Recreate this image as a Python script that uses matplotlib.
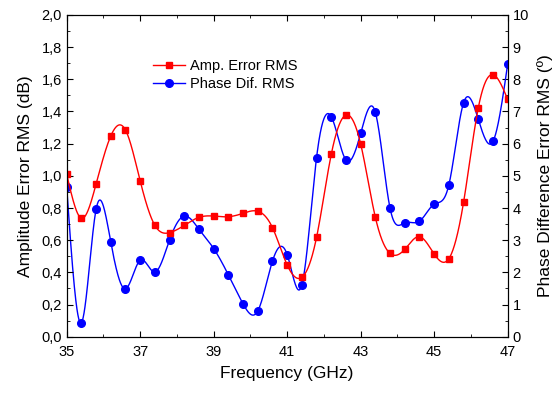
import numpy as np
import matplotlib

matplotlib.use("Agg")
import matplotlib.pyplot as plt
from matplotlib.ticker import MultipleLocator, FixedLocator, FuncFormatter

plt.rcParams["font.family"] = ["Liberation Sans", "DejaVu Sans"]

# frequency points (GHz), every 0.4 GHz
freq = np.round(np.arange(35.0, 47.01, 0.4), 1)

amp_rms = [1.01, 0.736, 0.949, 1.248, 1.285, 0.968, 0.692, 0.647, 0.692, 0.742,
           0.75, 0.746, 0.767, 0.78, 0.678, 0.446, 0.369, 0.618, 1.134, 1.378,
           1.198, 0.742, 0.518, 0.543, 0.622, 0.514, 0.485, 0.835, 1.422, 1.629,
           1.476]

phase_rms = [4.66, 0.435, 3.96, 2.94, 1.49, 2.38, 2.01, 3.01, 3.75, 3.34,
             2.74, 1.92, 1.02, 0.80, 2.35, 2.55, 1.61, 5.57, 6.84, 5.49,
             6.32, 6.97, 3.99, 3.54, 3.59, 4.12, 4.72, 7.27, 6.76, 6.07,
             8.47]

x_ticks = [35, 37, 39, 41, 43, 45, 47]


def natural_spline(x, y, n=1500):
    x = np.asarray(x, float)
    y = np.asarray(y, float)
    m = len(x)
    h = np.diff(x)
    A = np.zeros((m, m))
    b = np.zeros(m)
    A[0, 0] = A[-1, -1] = 1
    for i in range(1, m - 1):
        A[i, i - 1] = h[i - 1]
        A[i, i] = 2 * (h[i - 1] + h[i])
        A[i, i + 1] = h[i]
        b[i] = 6 * ((y[i + 1] - y[i]) / h[i] - (y[i] - y[i - 1]) / h[i - 1])
    M = np.linalg.solve(A, b)
    xs = np.linspace(x[0], x[-1], n)
    idx = np.clip(np.searchsorted(x, xs) - 1, 0, m - 2)
    x0, x1 = x[idx], x[idx + 1]
    hh = x1 - x0
    t0, t1 = x1 - xs, xs - x0
    ys = (M[idx] * t0 ** 3 + M[idx + 1] * t1 ** 3) / (6 * hh) \
        + (y[idx] / hh - M[idx] * hh / 6) * t0 \
        + (y[idx + 1] / hh - M[idx + 1] * hh / 6) * t1
    return xs, ys


fig = plt.figure(figsize=(5.53, 3.94), dpi=100)
ax = fig.add_axes([0.1206, 0.1454, 0.7974, 0.8166])
ax2 = ax.twinx()

RED = "#FF0000"
BLUE = "#0000FF"

xs, ys = natural_spline(freq, phase_rms)
ax2.plot(xs, ys, color=BLUE, lw=1.0)
ax2.plot(freq, phase_rms, "o", color=BLUE, ms=5.5)

xs, ys = natural_spline(freq, amp_rms)
ax.plot(xs, ys, color=RED, lw=1.0)
ax.plot(freq, amp_rms, "s", color=RED, ms=5)

ax.set_zorder(ax2.get_zorder() + 1)
ax.patch.set_visible(False)

ax.set_xlim(35, 47)
ax.set_ylim(0, 2.0)
ax2.set_ylim(0, 10)

ax.xaxis.set_major_locator(FixedLocator(x_ticks))
ax.xaxis.set_minor_locator(MultipleLocator(1))
ax.yaxis.set_major_locator(MultipleLocator(0.2))
ax.yaxis.set_minor_locator(MultipleLocator(0.1))
ax.yaxis.set_major_formatter(FuncFormatter(lambda v, p: f"{v:.1f}".replace(".", ",")))
ax2.yaxis.set_major_locator(MultipleLocator(1))
ax2.yaxis.set_minor_locator(MultipleLocator(0.5))

ax.tick_params(which="both", direction="in", top=True, labelsize=10.5)
ax.tick_params(which="major", length=4)
ax.tick_params(which="minor", length=2.5)
ax.tick_params(axis="x", which="major", pad=6)
ax2.tick_params(which="both", direction="in", labelsize=10.5)
ax2.tick_params(which="major", length=4)
ax2.tick_params(which="minor", length=2.5)

ax.set_xlabel("Frequency (GHz)", fontsize=12.5, labelpad=5)
ax.set_ylabel("Amplitude Error RMS (dB)", fontsize=12.5, labelpad=6)
ax2.set_ylabel("Phase Difference Error RMS (º)", fontsize=12.5, labelpad=6)

h1, = ax.plot([], [], "-s", color=RED, lw=1.0, ms=5)
h2, = ax.plot([], [], "-o", color=BLUE, lw=1.0, ms=5.5)
ax.legend([h1, h2], ["Amp. Error RMS", "Phase Dif. RMS"], loc="upper left",
          bbox_to_anchor=(0.165, 0.905), frameon=False, fontsize=10.5,
          handlelength=2.2, handletextpad=0.4, labelspacing=0.3)

fig.savefig("out.png")
